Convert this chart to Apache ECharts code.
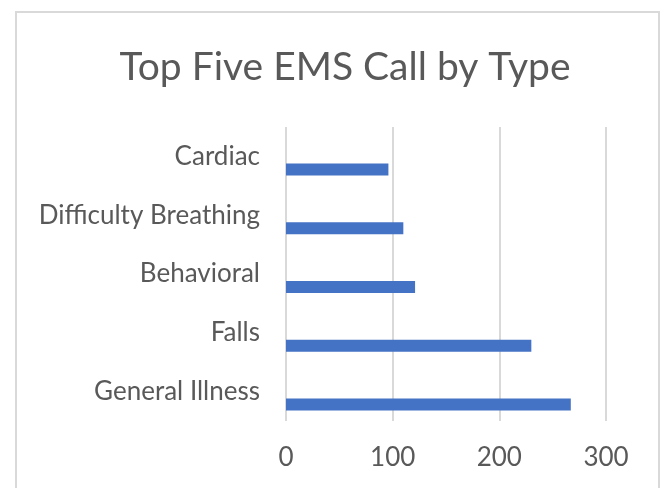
<!DOCTYPE html>
<html>
<head>
<meta charset="utf-8">
<script src="https://cdn.jsdelivr.net/npm/echarts@6/dist/echarts.min.js"></script>
<style>
  html, body { margin: 0; padding: 0; background: #fff; }
  #frame {
    position: absolute; left: 15px; top: 11px; width: 645px; height: 500px;
    border: 2px solid #d9d9d9; box-sizing: border-box;
  }
  #my_echart { position: absolute; left: 0; top: 0; width: 665px; height: 488px; }
</style>
</head>
<body>
<div id="frame"></div>
<div id="my_echart"></div>
<script>
// 数据
const categories = ["Cardiac", "Difficulty Breathing", "Behavioral", "Falls", "General Illness"];
const callCounts = [96, 110, 121, 230, 267];
const emptySeries = [null, null, null, null, null];
const tickValues = [0, 100, 200, 300];

const textColor = "#595959";
const fontName = "Lato, 'Open Sans', sans-serif";

let chart = echarts.init(document.getElementById("my_echart"));
let option = {
  animation: false,
  title: {
    text: "Top Five EMS Call by Type",
    left: 340,
    top: 43,
    textAlign: "center",
    textStyle: { color: textColor, fontSize: 39, fontWeight: "normal", fontFamily: fontName },
  },
  grid: { left: 286, right: 59, top: 127, bottom: 67 },
  xAxis: {
    type: "value",
    min: tickValues[0],
    max: tickValues[tickValues.length - 1],
    interval: 100,
    axisLine: { show: false },
    axisTick: { show: false },
    axisLabel: { color: textColor, fontSize: 26, fontFamily: fontName, margin: 24 },
    splitLine: { lineStyle: { color: "#d9d9d9", width: 2 } },
  },
  yAxis: {
    type: "category",
    data: categories,
    inverse: true,
    axisLine: { show: false },
    axisTick: { show: false },
    axisLabel: { color: textColor, fontSize: 26, fontFamily: fontName, margin: 26 },
  },
  series: [
    // 空系列占上半格，让数据条落在类目下方（与原图一致）
    {
      name: "blank",
      type: "bar",
      data: emptySeries,
      barWidth: 12,
      barGap: "117%",
    },
    {
      name: "Calls",
      type: "bar",
      data: callCounts,
      barWidth: 12,
      barGap: "117%",
      itemStyle: { color: "#4472c4" },
    },
  ],
};
chart.setOption(option);
</script>
</body>
</html>
